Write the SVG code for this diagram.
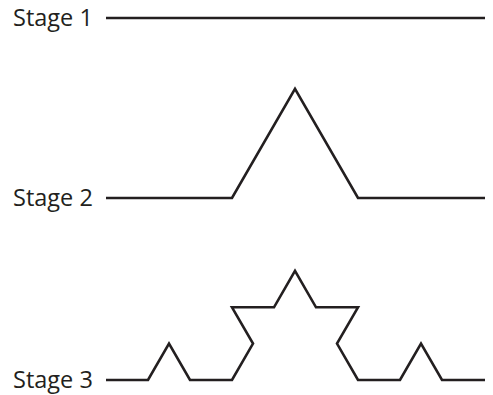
<svg xmlns="http://www.w3.org/2000/svg" width="493" height="395" viewBox="0 0 493 395">
<style>
.lbl{font-family:"Open Sans","Noto Sans","Liberation Sans",sans-serif;font-size:23.5px;fill:#231f20}
.curve{fill:none;stroke:#231f20;stroke-width:2.6;stroke-linejoin:miter;stroke-linecap:butt}
</style>
<rect width="493" height="395" fill="#fff"/>
<text class="lbl" x="13" y="26">Stage 1</text>
<polyline class="curve" points="106,18 485,18"/>
<text class="lbl" x="13" y="206">Stage 2</text>
<polyline class="curve" points="106,198 232,198 295,88.9 358,198 485,198"/>
<text class="lbl" x="13" y="388">Stage 3</text>
<polyline class="curve" points="106,380 148,380 169,343.6 190,380 232,380 253,343.6 232,307.3 274,307.3 295,270.9 316,307.3 358,307.3 337,343.6 358,380 400,380 421,343.6 442,380 485,380"/>
</svg>
